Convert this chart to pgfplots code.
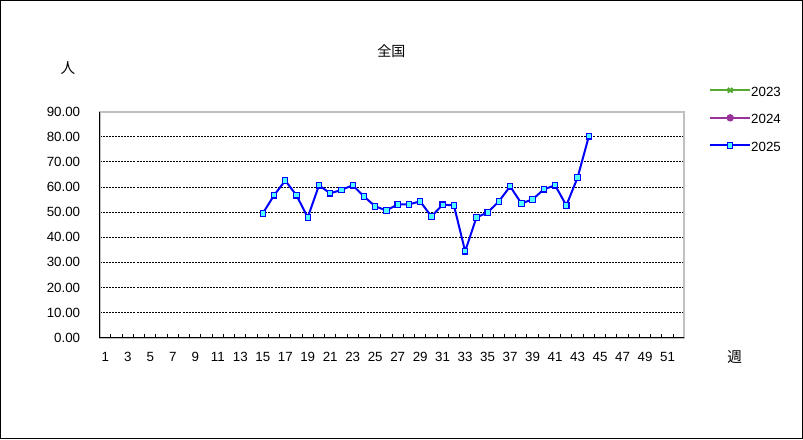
\documentclass[border=0pt]{standalone}
\usepackage{fontspec}
\setmainfont{Liberation Sans}
\newfontfamily\cjk{Noto Sans CJK JP}
\usepackage{pgfplots}
\pgfplotsset{compat=1.18}

\definecolor{c2023}{RGB}{85,168,49}
\definecolor{c2024}{RGB}{153,51,153}
\definecolor{c2025}{RGB}{0,0,255}
\definecolor{mfill}{RGB}{80,255,255}
\definecolor{frame}{RGB}{192,192,192}

\pgfplotstableread{
week val
15 49.5
16 56.7
17 62.6
18 56.7
19 47.9
20 60.7
21 57.5
22 58.9
23 60.7
24 56.3
25 52.3
26 50.7
27 53.1
28 53.1
29 54.3
30 48.3
31 53.0
32 52.7
33 34.4
34 47.9
35 49.9
36 54.3
37 60.3
38 53.5
39 55.1
40 59.1
41 60.7
42 52.7
43 63.8
44 80.2
}\zenkoku

\begin{document}
\begin{tikzpicture}[font=\fontsize{10}{12}\selectfont]
\path[use as bounding box] (0pt,0pt) rectangle (602.25pt,-329.25pt);
\draw[black, line width=0.75pt] (0.4pt,-0.4pt) rectangle (601.85pt,-328.85pt);

\begin{axis}[
  at={(74.8pt,-253.3pt)}, anchor=south west,
  scale only axis, width=438.5pt, height=169.5pt,
  xmin=0.5, xmax=52.5, ymin=0, ymax=90,
  xtick={1,3,...,51},
  minor xtick={0.5,1.5,...,52.5},
  ytick={0,10,...,90},
  tick align=inside,
  major tick length=0pt,
  minor tick length=3pt,
  xtick pos=bottom, ytick pos=left,
  minor tick style={black, line width=0.75pt},
  axis line style={frame, line width=1.4pt},
  ymajorgrids,
  major grid style={black, line width=0.7pt, dash pattern=on 1.5pt off 0.8pt},
  /pgf/number format/assume math mode=true,
  yticklabel={\pgfmathprintnumber[fixed, fixed zerofill, precision=2]{\tick}},
  yticklabel style={anchor=east, inner sep=0pt, xshift=-14.5pt},
  xticklabel style={anchor=north, inner sep=0pt, yshift=-10.5pt},
  legend style={at={(1.042,1.112)}, anchor=north west, draw=none, fill=none,
    inner sep=0pt, row sep=13.65pt, font=\fontsize{10}{12}\selectfont,
    nodes={inner sep=0pt, text height=7pt, text depth=0pt},
    /tikz/every even column/.style={column sep=5pt}},
  legend cell align=left,
  legend image code/.code={\draw[mark repeat=2, mark phase=2, #1] plot coordinates {(0pt,0.8pt) (15pt,0.8pt) (30pt,0.8pt)};},
  after end axis/.code={
    \draw[black, line width=1pt] (rel axis cs:0,1) -- (rel axis cs:0,0) -- (rel axis cs:1,0);
  },
]
\addlegendimage{c2023, line width=1.5pt, mark=x, mark size=2.5pt, mark options={line width=1.5pt}}
\addlegendentry{2023}
\addlegendimage{c2024, line width=1.5pt, mark=*, mark size=2pt}
\addlegendentry{2024}
\addplot[c2025, line width=1.5pt, mark=square*, mark size=2pt,
  mark options={fill=mfill, draw=c2025, line width=0.8pt}] table[x=week, y=val] {\zenkoku};
\addlegendentry{2025}
\end{axis}

\node[font=\cjk\fontsize{10.5}{12}\selectfont] at (293.5pt,-38pt) {全国};
\node[font=\cjk\fontsize{11}{12}\selectfont] at (51pt,-51pt) {人};
\node[font=\cjk\fontsize{11}{12}\selectfont] at (551pt,-268pt) {週};
\end{tikzpicture}
\end{document}
